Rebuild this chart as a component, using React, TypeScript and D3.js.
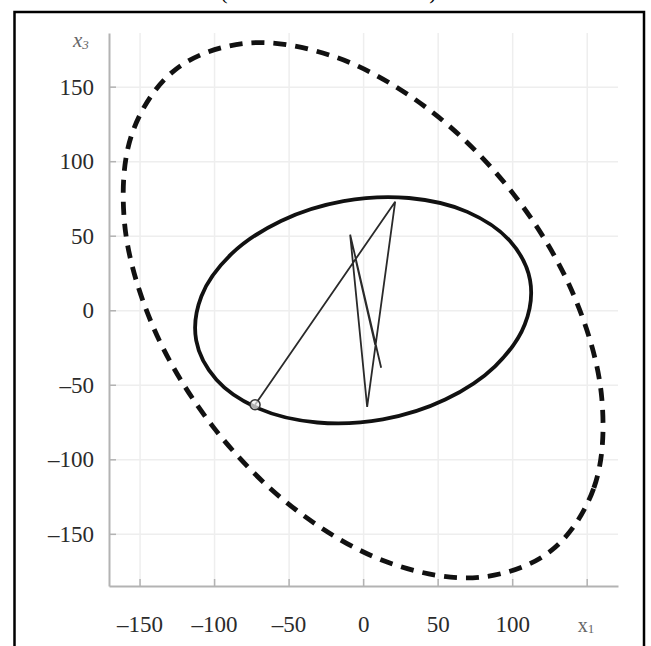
import { useEffect, useRef } from "react";
import * as d3 from "d3";

// axis ticks (x1 horizontal, x3 vertical)
const xTicks = [-150, -100, -50, 0, 50, 100, 150];
const yTicks = [-150, -100, -50, 0, 50, 100, 150];
const xDomain: [number, number] = [-170.5, 171];
const yDomain: [number, number] = [-185, 186];

// dashed outer ellipse (x1, x3)
const outerEllipse: [number, number][] = [
  [125.9, -161.5],
  [154.8, -119.2],
  [160.1, -58.8],
  [141.1, 10.6],
  [100.5, 78.4],
  [44.7, 134.2],
  [-17.9, 169.6],
  [-77.8, 179.2],
  [-125.9, 161.5],
  [-154.8, 119.2],
  [-160.1, 58.8],
  [-141.1, -10.6],
  [-100.5, -78.4],
  [-44.7, -134.2],
  [17.9, -169.6],
  [77.8, -179.2],
];

// solid inner ellipse
const innerEllipse: [number, number][] = [
  [112.0, 20.2],
  [98.4, 46.6],
  [69.9, 66.0],
  [30.7, 75.3],
  [-13.2, 73.2],
  [-55.1, 59.9],
  [-88.5, 37.6],
  [-108.5, 9.4],
  [-112.0, -20.2],
  [-98.4, -46.6],
  [-69.9, -66.0],
  [-30.7, -75.3],
  [13.2, -73.2],
  [55.1, -59.9],
  [88.5, -37.6],
  [108.5, -9.4],
];

// iterates, starting at the circled point
const iterates: [number, number][] = [
  [-72.5, -63.4],
  [21.5, 72.8],
  [2.7, -64.8],
  [-8.7, 50.7],
  [12.1, -38.6],
  [-4.7, 32.6],
  [8.1, -23.2],
];

const FONT = "'Liberation Serif', 'Times New Roman', serif";

export default function App() {
  const svgRef = useRef<SVGSVGElement>(null);

  useEffect(() => {
    const svg = d3.select(svgRef.current);
    svg.selectAll("*").remove();

    const width = 651;
    const height = 646;
    const margin = { top: 33, right: 33, bottom: 60, left: 109 };

    const x = d3
      .scaleLinear()
      .domain(xDomain)
      .range([margin.left, width - margin.right]);
    const y = d3
      .scaleLinear()
      .domain(yDomain)
      .range([height - margin.bottom, margin.top]);

    const fmt = (v: number) => (v < 0 ? "\u2013" + Math.abs(v) : String(v));

    svg.append("rect").attr("width", width).attr("height", height).attr("fill", "#fff");

    // caption fragments cut off at the top
    svg
      .append("text")
      .attr("x", 224)
      .attr("y", -1)
      .attr("font-family", FONT)
      .attr("font-size", 22)
      .attr("text-anchor", "middle")
      .text("(");
    svg
      .append("text")
      .attr("x", 433)
      .attr("y", -1)
      .attr("font-family", FONT)
      .attr("font-size", 22)
      .attr("text-anchor", "middle")
      .text(")");

    // frame
    svg
      .append("rect")
      .attr("x", 14.5)
      .attr("y", 12)
      .attr("width", 629.5)
      .attr("height", 660)
      .attr("fill", "none")
      .attr("stroke", "#000")
      .attr("stroke-width", 2.5);

    // grid
    const gx = svg
      .append("g")
      .attr("transform", `translate(0,${height - margin.bottom})`)
      .call(
        d3
          .axisBottom(x)
          .tickValues(xTicks)
          .tickSize(-(height - margin.top - margin.bottom))
          .tickFormat(() => "")
      );
    gx.select(".domain").remove();
    gx.selectAll("line").attr("stroke", "#eeeeee").attr("stroke-width", 1.5);

    const gy = svg
      .append("g")
      .attr("transform", `translate(${margin.left},0)`)
      .call(
        d3
          .axisLeft(y)
          .tickValues(yTicks)
          .tickSize(-(width - margin.left - margin.right))
          .tickFormat(() => "")
      );
    gy.select(".domain").remove();
    gy.selectAll("line").attr("stroke", "#eeeeee").attr("stroke-width", 1.5);

    // axes
    const ax = svg
      .append("g")
      .attr("transform", `translate(0,${height - margin.bottom})`)
      .call(
        d3
          .axisBottom(x)
          .tickValues(xTicks)
          .tickSize(-7)
          .tickSizeOuter(0)
          .tickPadding(30)
          .tickFormat((d) => (+d === 150 ? "" : fmt(+d)))
      );
    const ay = svg
      .append("g")
      .attr("transform", `translate(${margin.left},0)`)
      .call(
        d3
          .axisLeft(y)
          .tickValues(yTicks)
          .tickSize(-7)
          .tickSizeOuter(0)
          .tickPadding(15)
          .tickFormat((d) => fmt(+d))
      );
    [ax, ay].forEach((g) => {
      g.select(".domain").attr("stroke", "#b3b3b3").attr("stroke-width", 2);
      g.selectAll("line").attr("stroke", "#b3b3b3").attr("stroke-width", 1.5);
      g.selectAll("text")
        .attr("font-family", FONT)
        .attr("font-size", 23)
        .attr("fill", "#2b2b2b");
    });

    // axis names
    const xName = svg
      .append("text")
      .attr("x", x(150) - 9)
      .attr("y", 632)
      .attr("font-family", FONT)
      .attr("font-size", 20)
      .attr("fill", "#666");
    xName.append("tspan").text("x");
    xName.append("tspan").attr("font-size", 13).attr("dy", 1).text("1");

    const yName = svg
      .append("text")
      .attr("x", 73)
      .attr("y", 47)
      .attr("font-family", FONT)
      .attr("font-size", 21)
      .attr("font-style", "italic")
      .attr("fill", "#666");
    yName.append("tspan").text("x");
    yName.append("tspan").attr("font-size", 13).attr("dy", 2).text("3");

    const closed = d3
      .line<[number, number]>()
      .x((d) => x(d[0]))
      .y((d) => y(d[1]))
      .curve(d3.curveCatmullRomClosed.alpha(0.5));

    // outer dashed ellipse
    svg
      .append("path")
      .datum(outerEllipse)
      .attr("d", closed)
      .attr("fill", "none")
      .attr("stroke", "#111")
      .attr("stroke-width", 4.8)
      .attr("stroke-dasharray", "13 9");

    // inner ellipse
    svg
      .append("path")
      .datum(innerEllipse)
      .attr("d", closed)
      .attr("fill", "none")
      .attr("stroke", "#111")
      .attr("stroke-width", 3.8);

    // iterate path
    const line = d3
      .line<[number, number]>()
      .x((d) => x(d[0]))
      .y((d) => y(d[1]));
    svg
      .append("path")
      .datum(iterates)
      .attr("d", line)
      .attr("fill", "none")
      .attr("stroke", "#2a2a2a")
      .attr("stroke-width", 1.8)
      .attr("stroke-linejoin", "miter");

    svg
      .append("circle")
      .attr("cx", x(iterates[0][0]))
      .attr("cy", y(iterates[0][1]))
      .attr("r", 5)
      .attr("fill", "#f2f2f2")
      .attr("fill-opacity", 0.7)
      .attr("stroke", "#333")
      .attr("stroke-width", 1.5);
  }, []);

  return (
    <div style={{ position: "absolute", left: 0, top: 0 }}>
      <svg ref={svgRef} width={651} height={646} style={{ display: "block" }} />
    </div>
  );
}
